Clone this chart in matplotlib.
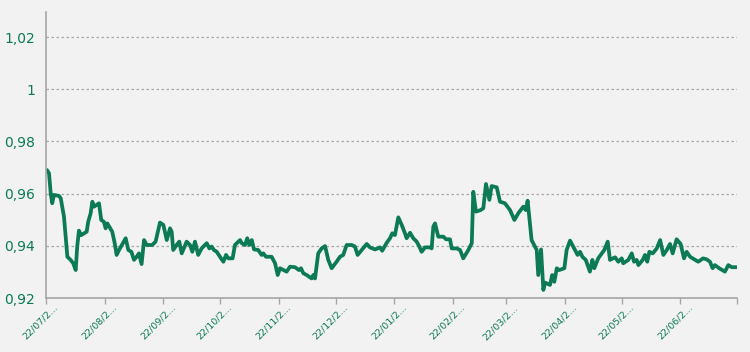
import matplotlib
matplotlib.use("Agg")
import matplotlib.pyplot as plt
import matplotlib.dates as mdates
from matplotlib.ticker import FixedLocator, FuncFormatter
from matplotlib.transforms import ScaledTranslation
import pandas as pd

# days since 22/07/2021 and index value
days = [0.7, 1.6, 2.5, 3.3, 4.2, 6.9, 7.8, 9.5, 11.3, 13.0, 14.4, 15.7, 16.5, 17.4,
        18.6, 21.5, 22.3, 23.6, 24.5, 25.4, 28.0, 29.2, 30.6, 31.5, 32.4, 35.0, 36.3,
        37.3, 38.6, 42.1, 43.5, 45.1, 46.5, 47.9, 49.1, 50.5, 51.8, 53.2, 56.1, 57.9,
        60.2, 62.0, 63.8, 65.5, 66.4, 67.2, 69.0, 70.4, 71.7, 74.3, 76.1, 77.3, 78.7,
        80.4, 82.2, 84.9, 86.3, 87.5, 88.7, 90.2, 91.9, 93.7, 95.1, 96.3, 98.6, 99.8,
        102.5, 103.4, 105.1, 106.3, 107.4, 108.7, 109.9, 112.1, 113.9, 114.8, 116.2,
        119.2, 121.0, 122.4, 123.6, 127.1, 128.9, 131.5, 133.6, 134.7, 135.9, 137.7,
        140.3, 141.2, 142.1, 143.8, 145.6, 147.4, 149.1, 150.9, 153.5, 155.3, 157.0,
        158.8, 161.5, 163.2, 164.6, 166.8, 169.4, 171.1, 173.8, 176.4, 177.6, 180.0,
        181.7, 182.9, 184.3, 186.1, 187.9, 189.6, 190.5, 192.3, 194.0, 195.8, 197.2,
        198.4, 200.2, 202.8, 203.7, 204.6, 205.5, 207.2, 209.9, 211.3, 213.4, 214.3,
        216.9, 218.7, 220.4, 223.1, 224.9, 225.7, 227.1, 229.6, 231.0, 232.4, 234.2,
        235.4, 238.1, 239.8, 242.4, 245.1, 247.4, 249.5, 252.1, 253.4, 254.4, 256.5,
        259.2, 260.0, 261.5, 262.7, 263.6, 266.2, 267.4, 268.5, 269.8, 271.0, 273.8,
        275.0, 276.8, 279.0, 280.8, 282.1, 283.3, 285.1, 287.3, 288.6, 289.6, 291.7,
        294.9, 296.7, 297.9, 300.6, 302.3, 304.1, 304.9, 307.6, 309.4, 310.6, 312.0,
        312.9, 315.2, 316.4, 317.6, 318.7, 320.5, 322.6, 324.4, 326.1, 327.9, 329.6,
        331.0, 331.9, 333.1, 335.2, 337.0, 338.4, 340.2, 344.5, 347.1, 349.0, 350.7,
        352.1, 353.3, 355.6, 358.6, 360.4, 362.2, 364.8]
values = [0.9688, 0.9678, 0.9601, 0.9563, 0.9595, 0.9591, 0.9582, 0.9512, 0.9358, 0.9346,
          0.9333, 0.9307, 0.9397, 0.9458, 0.9441, 0.9454, 0.9492, 0.9525, 0.9569, 0.9550,
          0.9563, 0.9499, 0.9492, 0.9467, 0.9486, 0.9454, 0.9410, 0.9365, 0.9384, 0.9429,
          0.9384, 0.9377, 0.9346, 0.9358, 0.9371, 0.9330, 0.9422, 0.9403, 0.9403, 0.9416,
          0.9489, 0.9480, 0.9422, 0.9467, 0.9454, 0.9384, 0.9403, 0.9416, 0.9371, 0.9416,
          0.9403, 0.9377, 0.9416, 0.9365, 0.9390, 0.9410, 0.9390, 0.9397, 0.9384, 0.9377,
          0.9358, 0.9339, 0.9365, 0.9352, 0.9352, 0.9403, 0.9422, 0.9410, 0.9403, 0.9429,
          0.9403, 0.9422, 0.9386, 0.9384, 0.9365, 0.9371, 0.9358, 0.9358, 0.9333, 0.9288,
          0.9314, 0.9301, 0.9320, 0.9318, 0.9307, 0.9314, 0.9295, 0.9288, 0.9275, 0.9288,
          0.9275, 0.9371, 0.9390, 0.9399, 0.9346, 0.9314, 0.9339, 0.9358, 0.9365, 0.9403,
          0.9403, 0.9397, 0.9365, 0.9384, 0.9407, 0.9394, 0.9386, 0.9394, 0.9381, 0.9412,
          0.9429, 0.9448, 0.9441, 0.9509, 0.9480, 0.9448, 0.9429, 0.9450, 0.9429, 0.9416,
          0.9397, 0.9377, 0.9394, 0.9394, 0.9390, 0.9474, 0.9486, 0.9435, 0.9435, 0.9425,
          0.9425, 0.9390, 0.9390, 0.9384, 0.9352, 0.9384, 0.9410, 0.9607, 0.9531, 0.9537,
          0.9544, 0.9637, 0.9576, 0.9629, 0.9624, 0.9569, 0.9563, 0.9537, 0.9499, 0.9525,
          0.9550, 0.9537, 0.9573, 0.9422, 0.9384, 0.9288, 0.9386, 0.9231, 0.9259, 0.9250,
          0.9288, 0.9262, 0.9314, 0.9307, 0.9314, 0.9384, 0.9420, 0.9390, 0.9365, 0.9377,
          0.9358, 0.9346, 0.9301, 0.9346, 0.9314, 0.9352, 0.9384, 0.9416, 0.9346, 0.9356,
          0.9339, 0.9352, 0.9333, 0.9346, 0.9371, 0.9339, 0.9346, 0.9326, 0.9346, 0.9365,
          0.9339, 0.9377, 0.9371, 0.9390, 0.9422, 0.9365, 0.9384, 0.9407, 0.9371, 0.9394,
          0.9425, 0.9407, 0.9352, 0.9377, 0.9358, 0.9339, 0.9352, 0.9348, 0.9339, 0.9314,
          0.9326, 0.9314, 0.9301, 0.9326, 0.9318, 0.9318]

start = pd.Timestamp("2021-07-22")
end = pd.Timestamp("2022-07-22")
dates = [start + pd.Timedelta(days=d) for d in days]
tick_dates = [start + pd.DateOffset(months=m) for m in range(12)]
tick_labels = [t.strftime("%d/%m/2...") for t in tick_dates]
yticks = [0.92, 0.94, 0.96, 0.98, 1.00, 1.02]

green = "#0b7a55"
bg = "#f2f2f2"

fig = plt.figure(figsize=(7.5, 3.52), dpi=100, facecolor=bg)
ax = fig.add_axes([0.0613, 0.1534, 0.9214, 0.8126], facecolor=bg)

ax.plot(dates, values, color=green, lw=2.7, solid_joinstyle="round")

ax.set_xlim(mdates.date2num(start), mdates.date2num(end))
ax.set_ylim(0.92, 1.0296)

ax.yaxis.set_major_locator(FixedLocator(yticks))
ax.yaxis.set_major_formatter(FuncFormatter(lambda v, p: f"{v:.2f}".replace(".", ",").replace("1,00", "1")))
ax.grid(axis="y", color="#a6a6a6", linestyle=(0, (2, 2)), lw=0.9)
ax.set_axisbelow(True)

# x ticks, labels drawn as rotated texts hanging from each tick
ax.set_xticks(mdates.date2num(tick_dates + [end]))
ax.set_xticklabels([])
lab_tr = ax.get_xaxis_transform() + ScaledTranslation(0.075, -0.05, fig.dpi_scale_trans)
for t, s in zip(tick_dates, tick_labels):
    ax.text(mdates.date2num(t), 0, s, transform=lab_tr, rotation=45, rotation_mode="anchor",
            ha="right", va="top", fontsize=6.8, color=green, clip_on=False)

ax.tick_params(axis="x", colors="#a6a6a6", length=4, width=1)
ax.tick_params(axis="y", length=0, labelcolor=green, labelsize=10, pad=8)

for s in ["top", "right"]:
    ax.spines[s].set_visible(False)
for s in ["left", "bottom"]:
    ax.spines[s].set_color("#a6a6a6")
    ax.spines[s].set_linewidth(1.2)

fig.savefig("out.png", dpi=100, facecolor=bg)
